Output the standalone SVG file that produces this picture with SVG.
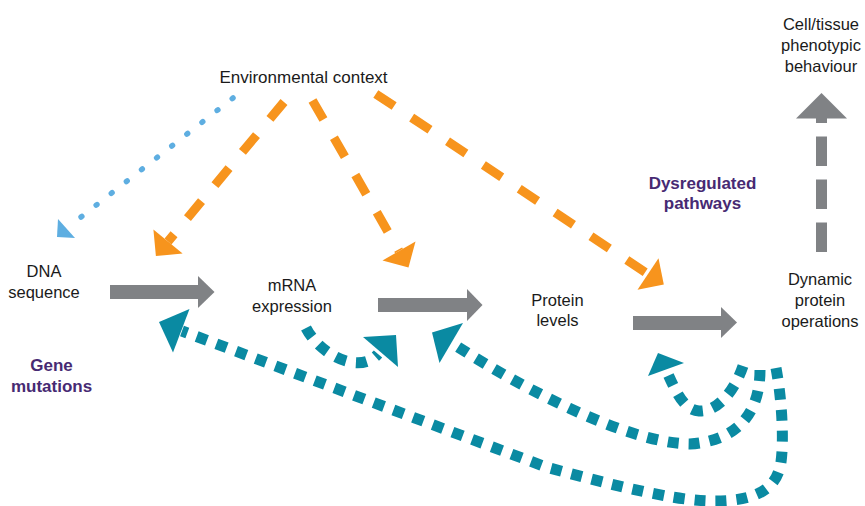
<svg xmlns="http://www.w3.org/2000/svg" width="865" height="506" viewBox="0 0 865 506">
  <style>
    .label { font-family: "Liberation Sans", Arial, sans-serif; font-size: 16.5px; fill: #1a1a1a; text-anchor: middle; }
    .title { font-size: 17px; }
    .emph { font-family: "Liberation Sans", Arial, sans-serif; font-size: 17px; font-weight: bold; fill: #472a73; text-anchor: middle; }
    .flow { fill: #808285; }
    .flow-dash { fill: none; stroke: #808285; stroke-width: 11; stroke-dasharray: 29.5 13.5; }
    .env { fill: none; stroke: #f7941d; stroke-width: 9; stroke-dasharray: 22 21; }
    .env-head { fill: #f7941d; }
    .dna-link { fill: none; stroke: #5eaee1; stroke-width: 5.5; stroke-linecap: round; stroke-dasharray: 1 18.2; }
    .dna-head { fill: #5eaee1; }
    .feedback { fill: none; stroke: #0a8aa2; stroke-width: 11; stroke-dasharray: 11 10; }
    .feedback-head { fill: #0a8aa2; }
  </style>

  <!-- Nodes -->
  <g id="environment">
    <text class="label title" x="303.5" y="83">Environmental context</text>
  </g>
  <g id="dna">
    <text class="label" x="44" y="277">DNA</text>
    <text class="label" x="44" y="298">sequence</text>
  </g>
  <g id="mrna">
    <text class="label" x="292" y="291">mRNA</text>
    <text class="label" x="292" y="312">expression</text>
  </g>
  <g id="protein">
    <text class="label" x="557.5" y="306">Protein</text>
    <text class="label" x="557.5" y="326">levels</text>
  </g>
  <g id="dynamic">
    <text class="label" x="820" y="285">Dynamic</text>
    <text class="label" x="820" y="306">protein</text>
    <text class="label" x="820" y="327">operations</text>
  </g>
  <g id="phenotype">
    <text class="label" x="821" y="29.5">Cell/tissue</text>
    <text class="label" x="821" y="50.5">phenotypic</text>
    <text class="label" x="821" y="71.5">behaviour</text>
  </g>
  <g id="dysregulated">
    <text class="emph" x="702.5" y="189">Dysregulated</text>
    <text class="emph" x="702.5" y="209">pathways</text>
  </g>
  <g id="gene-mutations">
    <text class="emph" x="51.5" y="371">Gene</text>
    <text class="emph" x="51.5" y="391.5">mutations</text>
  </g>

  <!-- Connectors -->
  <g id="connectors">
    <!-- main flow -->
    <rect class="flow" x="110" y="285" width="88.5" height="14"/>
    <polygon class="flow" points="198,276 214.5,292 198,308"/>
    <rect class="flow" x="378" y="298" width="89.5" height="14"/>
    <polygon class="flow" points="467,289 482.5,305 467,321"/>
    <rect class="flow" x="633" y="316" width="88.5" height="14"/>
    <polygon class="flow" points="721,307 737,322.5 721,338"/>
    <path class="flow-dash" d="M821.5,252 L821.5,118"/>
    <polygon class="flow" points="796,118.5 821.5,93 847,118.5"/>

    <!-- environmental influences -->
    <path class="env" d="M284,102 L168,241.5"/>
    <polygon class="env-head" points="153.4,229.4 155.9,256.1 182.6,253.6"/>
    <path class="env" d="M312.5,100.5 L399,251"/>
    <polygon class="env-head" points="382.5,260.5 408.5,267.5 415.5,241.5"/>
    <path class="env" d="M375.8,93.9 L648,274"/>
    <polygon class="env-head" points="637.5,289.8 663.8,284.5 658.5,258.2"/>
    <path class="dna-link" d="M233,98 L67,228"/>
    <polygon class="dna-head" points="58,219 57,237 75,238"/>

    <!-- feedback loops -->
    <path class="feedback" d="M306,328 C320,355 360,375 378,354"/>
    <polygon class="feedback-head" points="363,337 396,335 398,367"/>
    <path class="feedback" d="M743,366 C733,395 715,412 699,411 C684,410 676,392 667,372"/>
    <polygon class="feedback-head" points="684,363 658,353 648,376"/>
    <path class="feedback" d="M760,370 C760,405 745,440 690,444 C620,443 500,375 452,343"/>
    <polygon class="feedback-head" points="463,323 432,332.5 439.5,363"/>
    <path class="feedback" d="M776,368 C782,400 784,440 781,462 C777,490 755,501 714,501 C685,501 640,493 546,467 L182,331"/>
    <polygon class="feedback-head" points="189.5,309 159,322 173,352.5"/>
  </g>
</svg>
